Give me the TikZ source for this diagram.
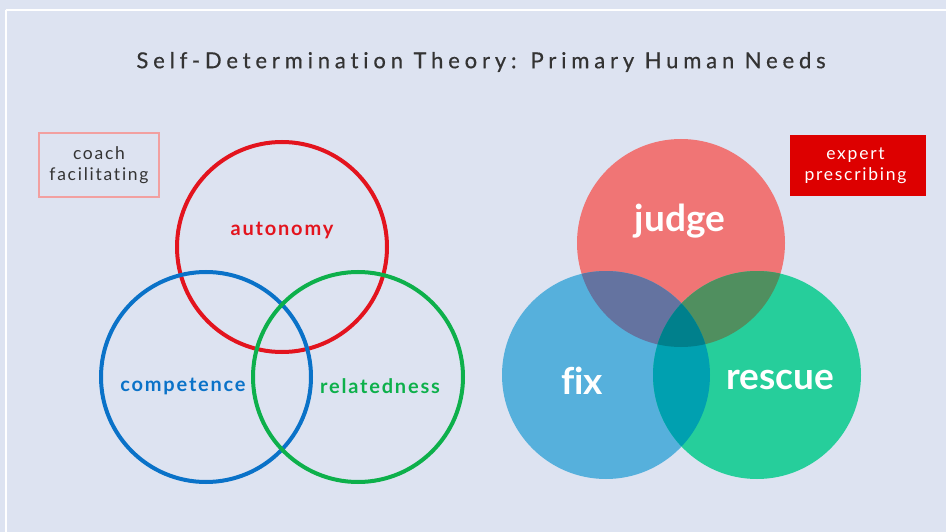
\documentclass[tikz,border=0pt]{standalone}
\usepackage{fontspec}
\setmainfont[Ligatures=NoCommon]{Lato}
\newfontfamily\titlefont[LetterSpace=22, Ligatures=NoCommon, FakeBold=0.5]{Lato}
\newfontfamily\needfont[LetterSpace=9, Ligatures=NoCommon]{Lato}
\newfontfamily\tagfont[LetterSpace=10, Ligatures=NoCommon]{Lato}
\definecolor{bg}{HTML}{DDE3F1}
\definecolor{ttl}{HTML}{333333}
\definecolor{ringred}{HTML}{E3141E}
\definecolor{ringblue}{HTML}{0A72C8}
\definecolor{ringgreen}{HTML}{0DB04B}
\definecolor{judgec}{HTML}{F07575}
\definecolor{fixc}{HTML}{56B0DC}
\definecolor{rescuec}{HTML}{26CE9B}
\definecolor{jfc}{HTML}{6473A0}
\definecolor{jrc}{HTML}{508F5F}
\definecolor{frc}{HTML}{00A0B0}
\definecolor{allc}{HTML}{00808C}
\definecolor{expertc}{HTML}{DD0000}
\definecolor{coachedge}{HTML}{F2A0A0}
\tikzset{
  ring/.style={line width=4pt},
  needlabel/.style={font=\needfont\fontsize{20}{23}\selectfont\bfseries},
  rolelabel/.style={font=\fontsize{37}{41}\selectfont\bfseries, text=white},
  tagbox/.style={font=\tagfont\fontsize{17.5}{21}\selectfont, align=center, inner sep=0pt, minimum width=120pt, minimum height=64pt}
}
\begin{document}
\begin{tikzpicture}[x=1pt,y=-1pt]
  % canvas and frame
  \useasboundingbox (0,0) rectangle (946,532);
  \fill[bg] (-2,-2) rectangle (948,534);
  \draw[white, line width=2pt] (5.5,10) -- (948,10);
  \draw[white, line width=2pt] (5.5,10) -- (5.5,534);

  % title
  \node[text=ttl, font=\titlefont\fontsize{22}{26}\selectfont] (title) at (481,62) {Self-Determination Theory: Primary Human Needs};

  % left: outlined needs
  \coordinate (cA) at (282,247);
  \coordinate (cC) at (206,377);
  \coordinate (cR) at (358,377);
  \draw[ring, ringred]   (cA) circle (105);
  \draw[ring, ringblue]  (cC) circle (105);
  \draw[ring, ringgreen] (cR) circle (105);
  \node[needlabel, text=ringred]   (autonomy)    at (282,230) {autonomy};
  \node[needlabel, text=ringblue]  (competence)  at (183,386) {competence};
  \node[needlabel, text=ringgreen] (relatedness) at (380,386) {relatedness};

  \node[tagbox, draw=coachedge, line width=1.2pt, text=ttl] (coach) at (99,165) {coach\\facilitating};

  % right: filled roles
  \coordinate (cJ) at (681,243);
  \coordinate (cF) at (606,375);
  \coordinate (cS) at (757,375);
  \def\rr{104}
  \fill[judgec]   (cJ) circle (\rr);
  \fill[fixc]     (cF) circle (\rr);
  \fill[rescuec]  (cS) circle (\rr);
  \begin{scope}
    \clip (cJ) circle (\rr);
    \fill[jfc] (cF) circle (\rr);
    \fill[jrc] (cS) circle (\rr);
  \end{scope}
  \begin{scope}
    \clip (cF) circle (\rr);
    \fill[frc] (cS) circle (\rr);
    \clip (cS) circle (\rr);
    \fill[allc] (cJ) circle (\rr);
  \end{scope}
  \node[rolelabel] (judge)  at (680,221) {judge};
  \node[rolelabel] (fix)    at (582,381) {fix};
  \node[rolelabel] (rescue) at (780,380) {rescue};

  \node[tagbox, fill=expertc, text=white, minimum width=136pt, minimum height=61pt, xshift=0pt] (expert) at (858,165.5) {\hspace*{-5pt}expert\\\hspace*{-5pt}prescribing};
\end{tikzpicture}
\end{document}
